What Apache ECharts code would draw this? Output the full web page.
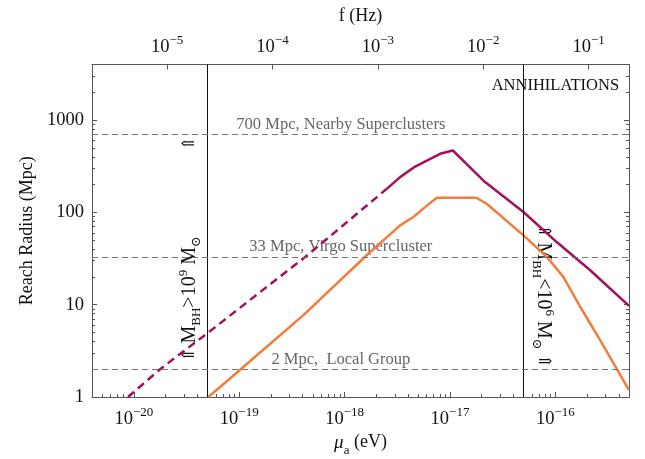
<!DOCTYPE html>
<html><head><meta charset="utf-8">
<script src="https://cdn.jsdelivr.net/npm/echarts@6/dist/echarts.min.js"></script>
<style>html,body{margin:0;padding:0;background:#fff}#c{width:645px;height:459px}</style>
</head><body><div id="c"></div>
<script>
// ---- data, mu in eV, R in Mpc ----
const magentaDashedMu = [8.8e-21, 1.77e-20, 5.08e-20, 4.52e-19, 2.51e-18];
const magentaDashedR  = [1, 2.0, 5.0, 35, 180];
const magentaSolidMu  = [2.51e-18, 3.36e-18, 4.67e-18, 8.05e-18, 1.064e-17, 2.15e-17, 4.98e-17, 1.03e-16, 2.14e-16, 5.0e-16];
const magentaSolidR   = [180, 241, 314, 431, 468, 213, 101, 47.7, 23.6, 9.7];
const orangeMu = [5.08e-20, 7.86e-20, 4.06e-19, 1.62e-18, 3.36e-18, 4.49e-18, 5.8e-18, 7.5e-18, 1.77e-17, 2.23e-17, 4.98e-17, 8.3e-17, 1.19e-16, 1.72e-16, 2.66e-16, 5.0e-16];
const orangeR  = [1, 1.53, 7.7, 34.3, 72.3, 89, 114, 144, 144, 124, 56.4, 32.9, 20, 9.5, 4.13, 1.19];
const boundaryMu = [5e-20, 5e-17];
const refR = [700, 33, 2];
const refLabels = ['700 Mpc, Nearby Superclusters', '33 Mpc, Virgo Supercluster', '2 Mpc,  Local Group'];
const muRange = [4e-21, 5e-16];
const rRange = [1, 4000];
const hzPerEv = 2 / 4.135667e-15; // f = 2 mu / h

// The axis works in units of 1e-21 eV (ECharts loses precision on ~1e-20 values); labels convert back.
const UNIT_EXP = -21;
const toAxis = mu => mu / Math.pow(10, UNIT_EXP);

const FONT = '"Liberation Serif", "DejaVu Serif", serif';
const pair = (xs, ys) => xs.map((x, i) => [toAxis(x), ys[i]]);
const MINUS = '\u2212';
function isDecade(v) { const e = Math.log10(v); return Math.abs(e - Math.round(e)) < 1e-6; }
function expLabel(n) { return '{b|10}{s|' + (n < 0 ? MINUS + (-n) : n) + '}'; }
const muLabel = v => isDecade(v) ? expLabel(Math.round(Math.log10(v)) + UNIT_EXP) : '';
const hzLabel = v => isDecade(v) ? expLabel(Math.round(Math.log10(v))) : '';
const rLabel = v => isDecade(v) ? String(Math.round(v)) : '';
const richExp = {
  b: { fontSize: 18.5, lineHeight: 26, fontFamily: FONT, color: '#111', verticalAlign: 'middle' },
  s: { fontSize: 13, lineHeight: 13, fontFamily: FONT, color: '#111', verticalAlign: 'top' }
};
const frame = { show: true, lineStyle: { color: '#555', width: 1 } };
const tick = { show: true, inside: true, length: 5, lineStyle: { color: '#555' } };
const minor = { show: true, splitNumber: 9, length: 3, lineStyle: { color: '#555' } };

const chart = echarts.init(document.getElementById('c'), null, { renderer: 'canvas' });
const option = {
  animation: false,
  backgroundColor: '#fff',
  grid: { left: 92, right: 16, top: 64.5, bottom: 62, containLabel: false, outerBoundsMode: 'none' },
  xAxis: [
    {
      type: 'log', min: toAxis(muRange[0]), max: toAxis(muRange[1]), position: 'bottom',
      name: '{mu|\u03bc}{a|a}{t| (eV)}', nameLocation: 'middle', nameGap: 27,
      nameTextStyle: { rich: {
        mu: { fontSize: 19, fontFamily: FONT, fontStyle: 'italic', color: '#111', lineHeight: 24, verticalAlign: 'top' },
        a: { fontSize: 13, fontFamily: FONT, color: '#111', lineHeight: 14, verticalAlign: 'bottom' },
        t: { fontSize: 18, fontFamily: FONT, color: '#111', lineHeight: 24, verticalAlign: 'top' } } },
      axisLine: frame, axisTick: tick, minorTick: minor, splitLine: { show: false },
      axisLabel: { formatter: muLabel, rich: richExp, margin: 9 }
    },
    {
      type: 'log', min: muRange[0] * hzPerEv, max: muRange[1] * hzPerEv, position: 'top',
      name: 'f (Hz)', nameLocation: 'middle', nameGap: 39,
      nameTextStyle: { fontSize: 18, fontFamily: FONT, color: '#111' },
      axisLine: frame, axisTick: tick, splitLine: { show: false },
      axisLabel: { formatter: hzLabel, rich: richExp, margin: 4 }
    }
  ],
  yAxis: [
    {
      type: 'log', min: rRange[0], max: rRange[1], position: 'left',
      name: 'Reach Radius (Mpc)', nameLocation: 'middle', nameGap: 55,
      nameTextStyle: { fontSize: 18, fontFamily: FONT, color: '#111' },
      axisLine: frame, axisTick: tick, minorTick: minor, splitLine: { show: false },
      axisLabel: { formatter: rLabel, fontSize: 18.5, fontFamily: FONT, color: '#111', margin: 8 }
    },
    {
      type: 'log', min: rRange[0], max: rRange[1], position: 'right',
      axisLine: frame, axisTick: tick, minorTick: minor, splitLine: { show: false },
      axisLabel: { show: false }
    }
  ],
  series: [
    {
      type: 'line', name: 'orange', data: pair(orangeMu, orangeR), showSymbol: false, symbol: 'none',
      lineStyle: { color: '#F37C3A', width: 2.5 }, z: 3,
      markLine: {
        silent: true, symbol: 'none', label: { show: false },
        data: [
          ...boundaryMu.map(v => ({ xAxis: toAxis(v), lineStyle: { color: '#111', width: 1, type: 'solid' } })),
          ...refR.map(v => ({ yAxis: v, lineStyle: { color: '#777', width: 1, type: [6, 4] } }))
        ]
      }
    },
    {
      type: 'line', name: 'magentaDashed', data: pair(magentaDashedMu, magentaDashedR), showSymbol: false, symbol: 'none',
      lineStyle: { color: '#A3105C', width: 2.5, type: [8, 5] }, z: 4
    },
    {
      type: 'line', name: 'magentaSolid', data: pair(magentaSolidMu, magentaSolidR), showSymbol: false, symbol: 'none',
      lineStyle: { color: '#A3105C', width: 2.5 }, z: 4
    }
  ]
};
chart.setOption(option);

// ---- annotations anchored to data coordinates ----
const px = (mu, r) => chart.convertToPixel({ gridIndex: 0 }, [toAxis(mu), r]);
const labelMu = 9.2e-19;
const g = [];
refR.forEach((r, i) => {
  const p = px(labelMu, r);
  g.push({ type: 'text', x: p[0], y: p[1] - 10, style: { text: refLabels[i], fontSize: 16.5, fontFamily: FONT, fill: '#666', align: 'center', verticalAlign: 'middle' } });
});
const richM = {
  ar: { fontSize: 17, fontFamily: FONT, fill: '#111', lineHeight: 26, verticalAlign: 'middle' },
  M: { fontSize: 20, fontFamily: FONT, fill: '#111', lineHeight: 26, verticalAlign: 'middle' },
  sub: { fontSize: 13, fontFamily: FONT, fill: '#111', lineHeight: 13, verticalAlign: 'bottom' },
  sup: { fontSize: 13, fontFamily: FONT, fill: '#111', lineHeight: 13, verticalAlign: 'top' }
};
const pL = px(3.4e-20, 11.5);
g.push({ type: 'text', x: pL[0], y: pL[1], rotation: Math.PI / 2,
  style: { text: '{ar|\u21d1 }{M|M}{sub|BH}{M|>10}{sup|9}{M| M}{sub|\u2299}', rich: richM, align: 'center', verticalAlign: 'middle' } });
const pL2 = px(3.4e-20, 560);
g.push({ type: 'text', x: pL2[0], y: pL2[1], rotation: Math.PI / 2,
  style: { text: '{ar|\u21d1}', rich: richM, align: 'center', verticalAlign: 'middle' } });
const pR = px(7.65e-17, 12.4);
g.push({ type: 'text', x: pR[0], y: pR[1], rotation: -Math.PI / 2,
  style: { text: '{ar|\u21d1 }{M|M}{sub|BH}{M|<10}{sup|6}{M| M}{sub|\u2299}{ar| \u21d1}', rich: richM, align: 'center', verticalAlign: 'middle' } });
const pA = px(1.0e-16, 2360);
g.push({ type: 'text', x: pA[0], y: pA[1], style: { text: 'ANNIHILATIONS', fontSize: 16.5, fontFamily: FONT, fill: '#111', align: 'center', verticalAlign: 'middle' } });
chart.setOption({ graphic: g });
</script>
</body></html>
